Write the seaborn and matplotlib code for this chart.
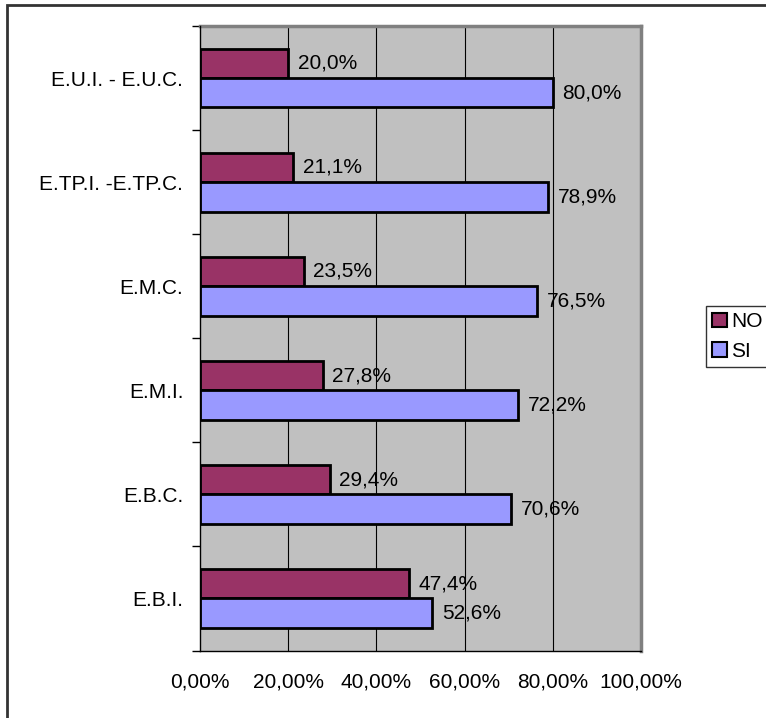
import matplotlib
matplotlib.use("Agg")
import matplotlib.pyplot as plt
import matplotlib.patches as mpatches
import seaborn as sns
import pandas as pd
from matplotlib.ticker import FixedLocator

categories = ["E.U.I. - E.U.C.", "E.TP.I. -E.TP.C.", "E.M.C.", "E.M.I.", "E.B.C.", "E.B.I."]
no_values = [20.0, 21.1, 23.5, 27.8, 29.4, 47.4]
si_values = [80.0, 78.9, 76.5, 72.2, 70.6, 52.6]
series = ["NO", "SI"]
x_ticks = [0, 20, 40, 60, 80, 100]
x_tick_labels = ["0,00%", "20,00%", "40,00%", "60,00%", "80,00%", "100,00%"]

colors = {"NO": "#993366", "SI": "#9999FF"}

rows = []
for c, n, s in zip(categories, no_values, si_values):
    rows.append({"cat": c, "serie": "NO", "val": n})
    rows.append({"cat": c, "serie": "SI", "val": s})
df = pd.DataFrame(rows)

sns.set_style("white")
plt.rcParams["font.family"] = ["Liberation Sans", "DejaVu Sans"]
plt.rcParams["text.color"] = "black"
plt.rcParams["xtick.color"] = "black"
plt.rcParams["ytick.color"] = "black"
FS = 15

fig = plt.figure(figsize=(7.66, 7.18), dpi=100)
ax = fig.add_axes([200 / 766, 1 - 650.5 / 718, 441 / 766, 624.5 / 718])
ax.set_facecolor("#C0C0C0")

sns.barplot(data=df, y="cat", x="val", hue="serie", order=categories, hue_order=series,
            orient="h", palette=colors, width=0.566, edgecolor="black", linewidth=2,
            saturation=1, legend=False, ax=ax, zorder=3)

ax.set_xlim(0, 100)
ax.set_ylim(5.5, -0.5)
ax.set_xticks(x_ticks)
ax.set_xticklabels(x_tick_labels, fontsize=FS, color="black")
ax.tick_params(axis="x", direction="out", length=6, width=1, color="black", pad=10)
ax.set_yticks(range(len(categories)))
ax.set_yticklabels(categories, fontsize=FS, color="black")
ax.tick_params(axis="y", which="major", length=0, pad=12)
ax.yaxis.set_minor_locator(FixedLocator([i - 0.5 for i in range(len(categories) + 1)]))
ax.tick_params(axis="y", which="minor", direction="out", length=6, width=1, color="black", left=True)
ax.set_xlabel("")
ax.set_ylabel("")

for x in x_ticks[1:-1]:
    ax.axvline(x, color="black", lw=0.8, zorder=1)

for side in ["top", "right"]:
    ax.spines[side].set_color("#808080")
    ax.spines[side].set_linewidth(2.5)
for side in ["left", "bottom"]:
    ax.spines[side].set_color("black")
    ax.spines[side].set_linewidth(1)
    ax.spines[side].set_zorder(4)

for cont, vals in zip(ax.containers, [no_values, si_values]):
    ax.bar_label(cont, labels=[f"{v:.1f}%".replace(".", ",") for v in vals],
                 padding=7, fontsize=FS, color="black", zorder=5)

handles = [mpatches.Patch(facecolor=colors[s], edgecolor="black", linewidth=1.5, label=s) for s in series]
leg = fig.legend(handles=handles, loc="upper left", bbox_to_anchor=(706 / 766, 1 - 306 / 718),
                 fontsize=FS, frameon=True, fancybox=False, handlelength=0.7, handleheight=0.7,
                 handletextpad=0.2, borderpad=0.3, labelspacing=0.5, borderaxespad=0)
leg.get_frame().set_edgecolor("black")
leg.get_frame().set_linewidth(1)
for t in leg.get_texts():
    t.set_color("black")

border = mpatches.Rectangle((7 / 766, -0.1), 2, 1 - 5 / 718 + 0.1, transform=fig.transFigure,
                            fill=False, edgecolor="#333333", linewidth=2, clip_on=False)
fig.patches.append(border)

fig.savefig("out.png", dpi=100, facecolor="white")
